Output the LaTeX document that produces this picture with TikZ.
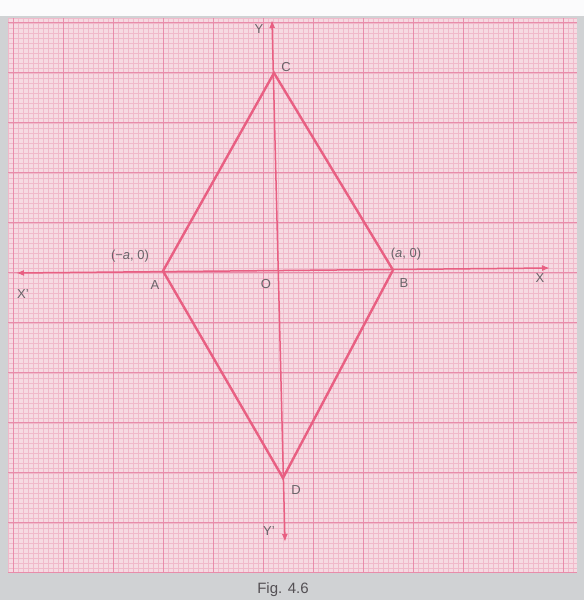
\documentclass[tikz,border=0pt]{standalone}
\usepackage{fontspec}
\setmainfont{Liberation Sans}
\usetikzlibrary{arrows.meta}
\definecolor{bgray}{RGB}{208,210,212}
\definecolor{paper}{RGB}{246,218,226}
\definecolor{minorg}{RGB}{240,185,202}
\definecolor{majorg}{RGB}{232,140,170}
\definecolor{redl}{RGB}{232,95,130}
\definecolor{labg}{RGB}{105,100,105}
\tikzset{
  minorline/.style={draw=minorg,line width=0.35pt},
  majorline/.style={draw=majorg,line width=1pt},
  axisline/.style={draw=redl,line width=1.5pt,{Latex[length=8pt,width=6pt]}-{Latex[length=8pt,width=6pt]}},
  rhomb/.style={draw=redl,line width=2.4pt,line join=miter},
  lab/.style={text=labg,font=\fontsize{13}{13}\selectfont,inner sep=0pt},
  figcap/.style={text=labg!80!black,font=\fontsize{15}{15}\selectfont,inner sep=0pt}
}
\begin{document}
\begin{tikzpicture}[x=1pt,y=-1pt]
\useasboundingbox (0,0) rectangle (584,600);
\fill[bgray] (0,0) rectangle (584,600);
\fill[white!92!bgray] (0,0) rectangle (584,16);
\fill[paper] (8,18) rectangle (577,572);
% minor grid
\foreach \i in {0,...,113} {\draw[minorline] (8+5*\i,18) -- (8+5*\i,572);}
\foreach \j in {0,...,110} {\draw[minorline] (8,18+5*\j) -- (577,18+5*\j);}
% major grid
\foreach \i in {0,...,11} {\draw[majorline] (13+50*\i,18) -- (13+50*\i,572);}
\foreach \j in {0,...,11} {\draw[majorline] (8,22+50*\j) -- (577,22+50*\j);}
% points
\coordinate (A) at (163,271);
\coordinate (B) at (393,270);
\coordinate (C) at (274,73);
\coordinate (D) at (283,478);
\coordinate (Xl) at (16,273);
\coordinate (Xr) at (550,268);
\coordinate (Yt) at (272,20);
\coordinate (Yb) at (285,542);
% axes
\draw[axisline] (Xl) -- (Xr);
\draw[axisline] (Yt) -- (Yb);
% rhombus
\draw[rhomb] (A) -- (C) -- (B) -- (D) -- cycle;
% labels
\node[lab] (lY) at (259,29) {Y};
\node[lab] (lC) at (286,67) {C};
\node[lab] (lAc) at (130,256) {(−\textit{a}, 0)};
\node[lab] (lA) at (155,285) {A};
\node[lab] (lO) at (266,284) {O};
\node[lab] (lBc) at (406,254) {(\textit{a}, 0)};
\node[lab] (lB) at (404,283) {B};
\node[lab] (lX) at (540,278) {X};
\node[lab] (lXp) at (23,294) {X'};
\node[lab] (lD) at (296,490) {D};
\node[lab] (lYp) at (269,531) {Y'};
\node[figcap] (fig) at (283,590) {Fig. 4.6};
\end{tikzpicture}
\end{document}
